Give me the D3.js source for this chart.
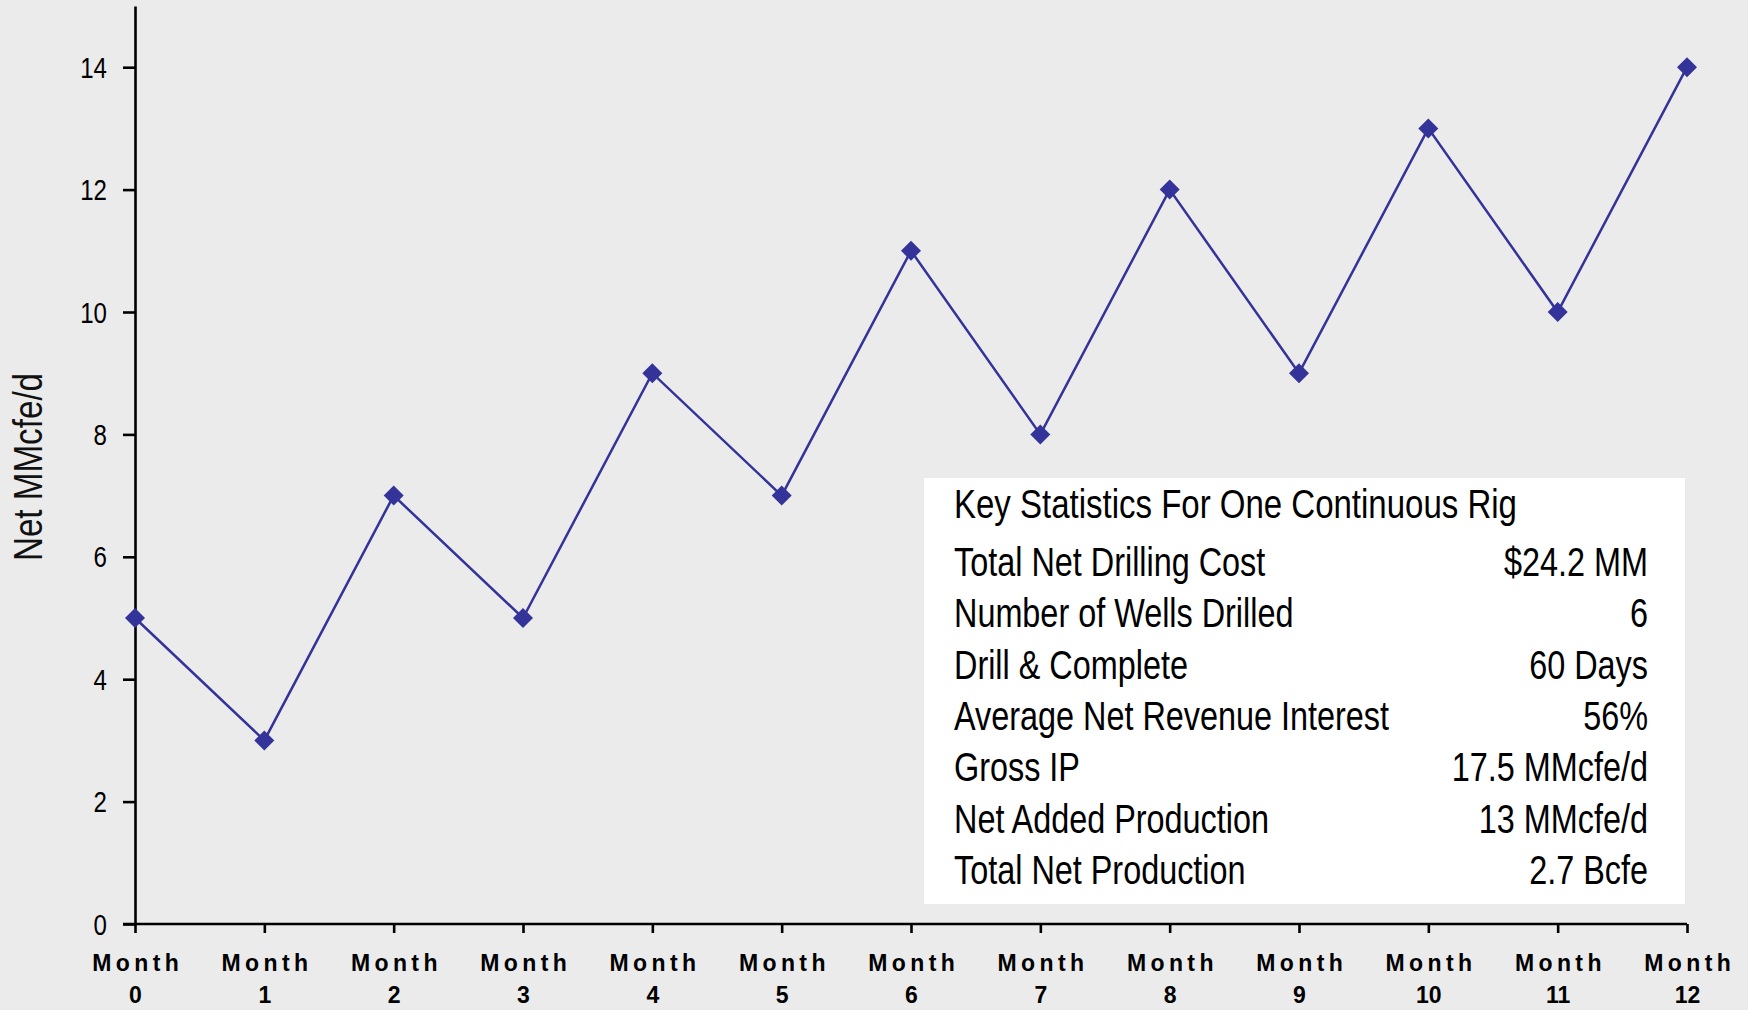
<!DOCTYPE html>
<html>
<head>
<meta charset="utf-8">
<script src="https://cdn.jsdelivr.net/npm/d3@7"></script>
<style>
  html, body { margin: 0; padding: 0; background: #ebebeb; }
  svg { display: block; }
</style>
</head>
<body>
<svg id="chart" width="1748" height="1010"></svg>
<script>
// ---- data ----
const months = [0, 1, 2, 3, 4, 5, 6, 7, 8, 9, 10, 11, 12];
const netProduction = [5, 3, 7, 5, 9, 7, 11, 8, 12, 9, 13, 10, 14];
const yTicks = [0, 2, 4, 6, 8, 10, 12, 14];
const xTickWord = "Month";
const yAxisTitle = "Net MMcfe/d";
const statsTitle = "Key Statistics For One Continuous Rig";
const statLabels = ["Total Net Drilling Cost", "Number of Wells Drilled", "Drill & Complete",
  "Average Net Revenue Interest", "Gross IP", "Net Added Production", "Total Net Production"];
const statValues = ["$24.2 MM", "6", "60 Days", "56%", "17.5 MMcfe/d", "13 MMcfe/d", "2.7 Bcfe"];

// ---- layout ----
const W = 1748, H = 1010;
const x0 = 135, x1 = 1687, yBottom = 924, yTop = 6;
const SX = 0.83; // horizontal condensing for the narrow face
const NARROW = "'Liberation Sans', Arial, sans-serif";
const svg = d3.select("#chart");
svg.append("rect").attr("width", W).attr("height", H).attr("fill", "#ebebeb");

const x = d3.scaleLinear().domain([0, 12]).range([x0, x1]);
const y = d3.scaleLinear().domain([0, 15]).range([yBottom, yTop]);

function narrowText(parent, tx, ty, str, size, anchor, rotate, sx) {
  const g = parent.append("g")
    .attr("transform", `translate(${tx},${ty})` + (rotate ? ` rotate(${rotate})` : "") + ` scale(${sx || SX},1)`);
  return g.append("text").attr("font-family", NARROW).attr("font-size", size)
    .attr("fill", "#000").attr("text-anchor", anchor || "start").text(str);
}

// stats box
const box = svg.append("g");
box.append("rect").attr("x", 924).attr("y", 478).attr("width", 761).attr("height", 426).attr("fill", "#ffffff");
narrowText(box, 954, 518, statsTitle, 40, "start", 0, 0.825);
statLabels.forEach((lab, i) => {
  const by = 576 + i * 51.3;
  narrowText(box, 954, by, lab, 40, "start", 0, 0.81);
  narrowText(box, 1648, by, statValues[i], 40, "end", 0, 0.81);
});

// y axis
const yAxis = svg.append("g").attr("transform", `translate(${x0},0)`)
  .call(d3.axisLeft(y).tickValues(yTicks).tickSize(12).tickSizeOuter(0).tickFormat(""));
yAxis.select(".domain").attr("stroke", "#000").attr("stroke-width", 2.6);
yAxis.selectAll(".tick line").attr("stroke", "#000").attr("stroke-width", 2.6);
yAxis.selectAll(".tick").each(function (d) {
  narrowText(d3.select(this), -28, 10, d, 29, "end");
});

// x axis
const xAxis = svg.append("g").attr("transform", `translate(0,${yBottom})`)
  .call(d3.axisBottom(x).tickValues(months).tickSize(9).tickSizeOuter(0).tickFormat(""));
xAxis.select(".domain").attr("stroke", "#000").attr("stroke-width", 2.6).attr("d", `M${x0 - 12},0H${x1}`);
xAxis.selectAll(".tick line").attr("stroke", "#000").attr("stroke-width", 2.6);
const tickG = xAxis.selectAll(".tick");
tickG.append("text").attr("y", 47).attr("text-anchor", "middle")
  .attr("font-family", "'Liberation Sans', Arial, sans-serif").attr("font-weight", "bold")
  .attr("font-size", 23).attr("letter-spacing", "4.4px").attr("dx", 2.2).attr("fill", "#000")
  .text(xTickWord);
tickG.append("text").attr("y", 79).attr("text-anchor", "middle")
  .attr("font-family", "'Liberation Sans', Arial, sans-serif").attr("font-weight", "bold")
  .attr("font-size", 23).attr("fill", "#000")
  .text(d => d);

// y axis title
narrowText(svg, 42, 467, yAxisTitle, 40, "middle", -90).attr("fill", "#111");

// line
const pts = months.map((m, i) => [m, netProduction[i]]);
svg.append("path").datum(pts)
  .attr("fill", "none").attr("stroke", "#333399").attr("stroke-width", 2.5)
  .attr("d", d3.line().x(d => x(d[0])).y(d => y(d[1])));

// diamond markers
const r = 10;
svg.append("g").selectAll("path").data(pts).join("path")
  .attr("transform", d => `translate(${x(d[0])},${y(d[1])})`)
  .attr("d", `M0,${-r}L${r},0L0,${r}L${-r},0Z`)
  .attr("fill", "#333399");
</script>
</body>
</html>
